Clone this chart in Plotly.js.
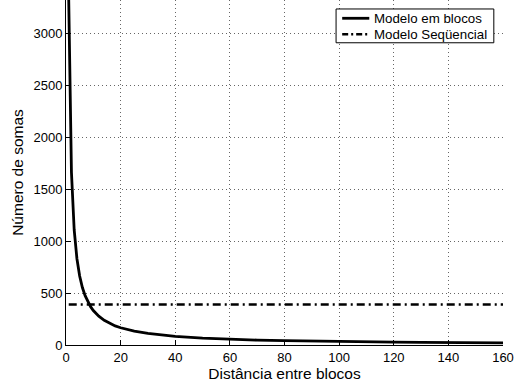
<!DOCTYPE html>
<html>
<head>
<meta charset="utf-8">
<script src="https://cdn.plot.ly/plotly-3.0.1.min.js"></script>
<style>html,body{margin:0;padding:0;background:#fff;}#chart{width:518px;height:387px;}</style>
</head>
<body>
<div id="chart"></div>
<script>
// Distance between blocks
const distancia = [1,2,3,4,5,6,7,8,9,10,12,14,16,18,20,25,30,35,40,50,60,70,80,90,100,110,120,130,140,150,160];
// Block model: number of sums
const somasBlocos = [3320,1660,1107,830,664,553,474,415,369,332,277,237,208,184,166,133,111,95,83,66,55,47,42,37,33,30,28,26,24,22,21];
// Sequential model: constant number of sums
const distSeq = [1,160];
const somasSeq = [390,390];
const nomes = ["Modelo em blocos","Modelo Seqüencial"];

const FAM = "Liberation Sans, Arial, Helvetica, sans-serif";
function f(sz){ return {family:FAM, size:sz, color:"#000"}; }
const dashSeq = "8px,4px,2px,4px";

const traces = [
  {x:distancia, y:somasBlocos, mode:"lines", name:nomes[0], line:{color:"#000", width:2.8}},
  {x:distSeq, y:somasSeq, mode:"lines", name:nomes[1], line:{color:"#000", width:2.5, dash:dashSeq}}
];

// legend drawn by hand (box, samples, labels) to match compact MATLAB legend
const shapes = [
  {type:"rect", xref:"paper", yref:"paper", x0:0.618, x1:0.979, y0:0.876, y1:0.974, line:{color:"#000", width:1}, fillcolor:"#fff", layer:"above"},
  {type:"line", xref:"paper", yref:"paper", x0:0.632, x1:0.694, y0:0.947, y1:0.947, line:{color:"#000", width:2.8}, layer:"above"},
  {type:"line", xref:"paper", yref:"paper", x0:0.632, x1:0.694, y0:0.901, y1:0.901, line:{color:"#000", width:2.5, dash:"6px,3px,2px,3px"}, layer:"above"}
];
const annotations = [
  {xref:"paper", yref:"paper", x:0.700, y:0.947, xanchor:"left", yanchor:"middle", text:nomes[0], showarrow:false, font:f(13.3)},
  {xref:"paper", yref:"paper", x:0.700, y:0.901, xanchor:"left", yanchor:"middle", text:nomes[1], showarrow:false, font:f(13.3)}
];

const layout = {
  width:518, height:387,
  margin:{l:66, r:15, t:0, b:42},
  paper_bgcolor:"#fff", plot_bgcolor:"#fff",
  font:f(13),
  showlegend:false,
  shapes:shapes, annotations:annotations,
  xaxis:{
    range:[0,160], tickvals:[0,20,40,60,80,100,120,140,160],
    showgrid:true, gridcolor:"#666", griddash:"1px,3px", gridwidth:1,
    showline:true, linecolor:"#000", linewidth:1, mirror:false,
    ticks:"inside", ticklen:5, tickcolor:"#000", zeroline:false,
    tickfont:f(13),
    title:{text:"Distância entre blocos", font:f(15.5), standoff:0}
  },
  yaxis:{
    range:[0,3320], tickvals:[0,500,1000,1500,2000,2500,3000],
    showgrid:true, gridcolor:"#666", griddash:"1px,3px", gridwidth:1,
    showline:true, linecolor:"#000", linewidth:1, mirror:false,
    ticks:"inside", ticklen:5, tickcolor:"#000", zeroline:false,
    tickfont:f(13),
    title:{text:"Número de somas", font:f(15.5), standoff:6}
  }
};
Plotly.newPlot("chart", traces, layout, {displayModeBar:false, staticPlot:true});
</script>
</body>
</html>
